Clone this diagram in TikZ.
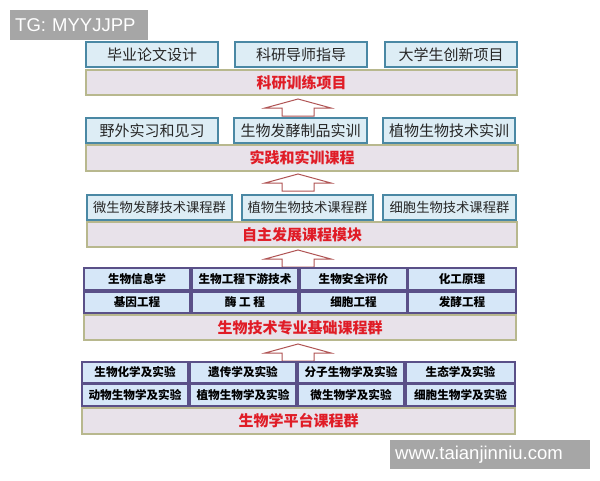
\documentclass[tikz,border=0pt]{standalone}
\usepackage{fontspec}
\setmainfont{Liberation Sans}
\newfontfamily\cjk{Noto Sans CJK SC}
\definecolor{topfill}{HTML}{DDEDF5}
\definecolor{topdraw}{HTML}{4A88A4}
\definecolor{gridfill}{HTML}{D6E7F8}
\definecolor{griddraw}{HTML}{5A5088}
\definecolor{bandfill}{HTML}{E8E2EA}
\definecolor{banddraw}{HTML}{B8B88E}
\definecolor{bandred}{HTML}{E01C26}
\definecolor{arrowdraw}{HTML}{B05454}
\definecolor{wmgray}{HTML}{A6A6A6}
\tikzset{
  topbox/.style={draw=topdraw, fill=topfill, line width=1.2pt, inner sep=0pt,
    text=black!85, font=\cjk\fontsize{15}{15}\selectfont},
  midbox/.style={topbox, font=\cjk\fontsize{13.3}{14}\selectfont},
  gridbox/.style={draw=griddraw, fill=gridfill, line width=1.2pt, inner sep=0pt,
    text=black, font=\cjk\bfseries\fontsize{11.6}{12}\selectfont},
  band/.style={draw=banddraw, fill=bandfill, line width=1.2pt, inner sep=0pt,
    text=bandred, font=\cjk\bfseries\fontsize{15}{15}\selectfont},
  blockarrow/.style={draw=arrowdraw, fill=white, line width=1pt, line join=miter},
  wm/.style={fill=wmgray, text=white, inner sep=0pt, anchor=north west,
    font=\fontsize{18.5}{18.5}\selectfont}
}
\begin{document}
\begin{tikzpicture}[x=1pt,y=-1pt]
\useasboundingbox (0,0) rectangle (600,480);
\fill[white] (0,0) rectangle (600,480);
% row 1
\node[topbox, minimum width=132pt, minimum height=25pt] (r1a) at (152,54.5) {毕业论文设计};
\node[topbox, minimum width=132pt, minimum height=25pt] (r1b) at (301,54.5) {科研导师指导};
\node[topbox, minimum width=132pt, minimum height=25pt] (r1c) at (451,54.5) {大学生创新项目};
\node[band, minimum width=431pt, minimum height=25pt] (b1) at (301.5,82.5) {科研训练项目};
% arrow 1
\coordinate (t1) at (298,99);
\draw[blockarrow] (t1) -- ++(33,9) -- ++(-17,0) -- ++(0,8) -- ++(-32,0) -- ++(0,-8) -- ++(-17,0) -- cycle;
% row 2
\node[topbox, minimum width=132pt, minimum height=25pt] (r2a) at (152,130.5) {野外实习和见习};
\node[topbox, minimum width=133pt, minimum height=25pt] (r2b) at (300.5,130.5) {生物发酵制品实训};
\node[topbox, minimum width=132pt, minimum height=25pt] (r2c) at (449,130.5) {植物生物技术实训};
\node[band, minimum width=432pt, minimum height=26pt] (b2) at (302,158) {实践和实训课程};
% arrow 2
\coordinate (t2) at (298,174);
\draw[blockarrow] (t2) -- ++(33,9) -- ++(-17,0) -- ++(0,8) -- ++(-32,0) -- ++(0,-8) -- ++(-17,0) -- cycle;
% row 3
\node[midbox, minimum width=145pt, minimum height=25pt] (r3a) at (159.5,207.5) {微生物发酵技术课程群};
\node[midbox, minimum width=131pt, minimum height=25pt] (r3b) at (307.5,207.5) {植物生物技术课程群};
\node[midbox, minimum width=133pt, minimum height=25pt] (r3c) at (449.5,207.5) {细胞生物技术课程群};
\node[band, minimum width=430pt, minimum height=25pt] (b3) at (302,234.5) {自主发展课程模块};
% arrow 3
\coordinate (t3) at (298,250);
\draw[blockarrow] (t3) -- ++(33,9) -- ++(-17,0) -- ++(0,8) -- ++(-32,0) -- ++(0,-8) -- ++(-17,0) -- cycle;
% row 4
\node[gridbox, minimum width=106pt, minimum height=22pt] (r4a) at (137,279) {生物信息学};
\node[gridbox, minimum width=106pt, minimum height=22pt] (r4b) at (245,279) {生物工程下游技术};
\node[gridbox, minimum width=107pt, minimum height=22pt] (r4c) at (353.5,279) {生物安全评价};
\node[gridbox, minimum width=108pt, minimum height=22pt] (r4d) at (462,279) {化工原理};
\node[gridbox, minimum width=106pt, minimum height=21pt] (r4e) at (137,302.5) {基因工程};
\node[gridbox, minimum width=106pt, minimum height=21pt] (r4f) at (245,302.5) {酶 工 程};
\node[gridbox, minimum width=107pt, minimum height=21pt] (r4g) at (353.5,302.5) {细胞工程};
\node[gridbox, minimum width=108pt, minimum height=21pt] (r4h) at (462,302.5) {发酵工程};
\node[band, minimum width=432pt, minimum height=25pt] (b4) at (300,327.5) {生物技术专业基础课程群};
% arrow 4
\coordinate (t4) at (298,344);
\draw[blockarrow] (t4) -- ++(33,9) -- ++(-17,0) -- ++(0,8) -- ++(-32,0) -- ++(0,-8) -- ++(-17,0) -- cycle;
% row 5
\node[gridbox, minimum width=106pt, minimum height=21pt] (r5a) at (135,372.5) {生物化学及实验};
\node[gridbox, minimum width=106pt, minimum height=21pt] (r5b) at (243,372.5) {遗传学及实验};
\node[gridbox, minimum width=106pt, minimum height=21pt] (r5c) at (351,372.5) {分子生物学及实验};
\node[gridbox, minimum width=109pt, minimum height=21pt] (r5d) at (460.5,372.5) {生态学及实验};
\node[gridbox, minimum width=106pt, minimum height=22pt] (r5e) at (135,395) {动物生物学及实验};
\node[gridbox, minimum width=106pt, minimum height=22pt] (r5f) at (243,395) {植物生物学及实验};
\node[gridbox, minimum width=106pt, minimum height=22pt] (r5g) at (351,395) {微生物学及实验};
\node[gridbox, minimum width=109pt, minimum height=22pt] (r5h) at (460.5,395) {细胞生物学及实验};
\node[band, minimum width=433pt, minimum height=26pt] (b5) at (298.5,421) {生物学平台课程群};
% watermarks
\node[wm, minimum width=138pt, minimum height=30pt, text width=138pt, align=left] (wm1) at (10,10) {\hspace*{5pt}TG: MYYJJPP};
\node[wm, minimum width=200pt, minimum height=29pt, text width=200pt, align=left] (wm2) at (390,440) {\hspace*{5pt}www.taianjinniu.com};
\end{tikzpicture}
\end{document}
